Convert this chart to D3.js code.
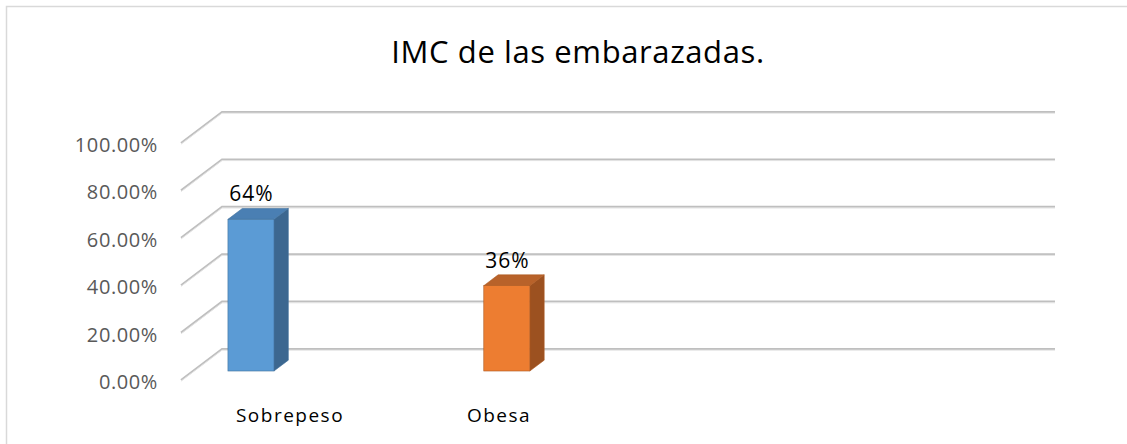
<!DOCTYPE html>
<html>
<head>
<meta charset="utf-8">
<script src="https://cdn.jsdelivr.net/npm/d3@7"></script>
<style>
  body { margin: 0; background: #fff; }
  svg { display: block; font-family: "Open Sans", sans-serif; }
</style>
</head>
<body>
<div id="chart"></div>
<script>
const categories = ["Sobrepeso", "Obesa"]
const values = [0.64, 0.36]
const valueLabels = ["64%", "36%"]
const yTicks = [0, 0.2, 0.4, 0.6, 0.8, 1]

const width = 1127
const height = 444

// 3D depth offset of the back wall and the bars' slice of depth
const depthX = 41, depthY = -31
const barT0 = 0.29, barT1 = 0.64

const svg = d3.select('#chart')
    .append('svg')
        .attr('width', width)
        .attr('height', height)

svg.append('rect')
    .attr('x', 6.5).attr('y', 6.5)
    .attr('width', width).attr('height', height)
    .attr('fill', '#fff')
    .attr('stroke', '#d9d9d9')
    .attr('stroke-width', 1.5)

svg.append('text')
    .attr('x', 578)
    .attr('y', 63)
    .attr('text-anchor', 'middle')
    .attr('font-size', 31)
    .attr('letter-spacing', 0.6)
    .attr('fill', '#000')
    .text('IMC de las embarazadas.')

// front plane y scale
const yScale = d3.scaleLinear()
    .domain([0, 1])
    .range([380, 143])

const xScale = d3.scaleBand()
    .domain(categories)
    .range([181, 553])
    .paddingInner(0.82)
    .paddingOuter(0.137)

const labelX = d3.scalePoint()
    .domain(categories)
    .range([290, 499])

const wallLeft = 181, wallRight = 1014

// grid: diagonal on the side wall + horizontal on the back wall
const grid = svg.append('g')
yTicks.forEach(t => {
    const y = yScale(t)
    const pts = [[wallLeft, y], [wallLeft + depthX, y + depthY], [wallRight + depthX, y + depthY]]
    grid.append('polyline')
        .attr('points', pts.map(p => p.join(',')).join(' '))
        .attr('fill', 'none')
        .attr('stroke', '#bfbfbf')
        .attr('stroke-width', 2)
    grid.append('polyline')
        .attr('points', pts.map(p => [p[0], p[1] + 1.2].join(',')).join(' '))
        .attr('fill', 'none')
        .attr('stroke', '#e3e3e3')
        .attr('stroke-width', 1)
})

const yAxis = svg.append('g')
    .attr('transform', 'translate(166,2)')
    .call(d3.axisLeft(yScale)
        .tickValues(yTicks)
        .tickSize(0)
        .tickPadding(8)
        .tickFormat(d3.format('.2%')))
yAxis.select('.domain').remove()
yAxis.selectAll('text')
    .attr('font-family', '"Open Sans", sans-serif')
    .attr('font-size', 20)
    .attr('letter-spacing', 0.6)
    .attr('fill', '#595959')

const colors = [
    { front: '#5b9bd5', top: '#4a7fb3', side: '#3c6790', edge: '#41719c' },
    { front: '#ed7d31', top: '#b8622a', side: '#9c5120', edge: '#ae5a21' }
]

const bars = svg.append('g')
categories.forEach((c, i) => {
    const x0 = xScale(c) + depthX * barT0
    const x1 = x0 + xScale.bandwidth()
    const yb = yScale(0) + depthY * barT0
    const yt = yScale(values[i]) + depthY * barT0
    const dx = depthX * (barT1 - barT0)
    const dy = depthY * (barT1 - barT0)
    const col = colors[i]
    // side face
    bars.append('polygon')
        .attr('points', [[x1, yb], [x1 + dx, yb + dy], [x1 + dx, yt + dy], [x1, yt]].map(p => p.join(',')).join(' '))
        .attr('fill', col.side)
        .attr('stroke', col.edge).attr('stroke-width', 0.6)
    // top face
    bars.append('polygon')
        .attr('points', [[x0, yt], [x1, yt], [x1 + dx, yt + dy], [x0 + dx, yt + dy]].map(p => p.join(',')).join(' '))
        .attr('fill', col.top)
        .attr('stroke', col.edge).attr('stroke-width', 0.6)
    // front face
    bars.append('rect')
        .attr('x', x0).attr('y', yt)
        .attr('width', xScale.bandwidth())
        .attr('height', yb - yt)
        .attr('fill', col.front)
        .attr('stroke', col.edge).attr('stroke-width', 0.6)

    svg.append('text')
        .attr('x', x0 + xScale.bandwidth() / 2 + 0.5)
        .attr('y', yt - 18)
        .attr('text-anchor', 'middle')
        .attr('font-size', 21)
        .attr('letter-spacing', 1)
        .attr('fill', '#000')
        .text(valueLabels[i])
})

svg.selectAll('.cat')
    .data(categories)
    .enter()
    .append('text')
        .attr('class', 'cat')
        .attr('x', d => labelX(d))
        .attr('y', 422)
        .attr('text-anchor', 'middle')
        .attr('font-size', 19)
        .attr('letter-spacing', 1.5)
        .attr('fill', '#000')
        .text(d => d)
</script>
</body>
</html>
